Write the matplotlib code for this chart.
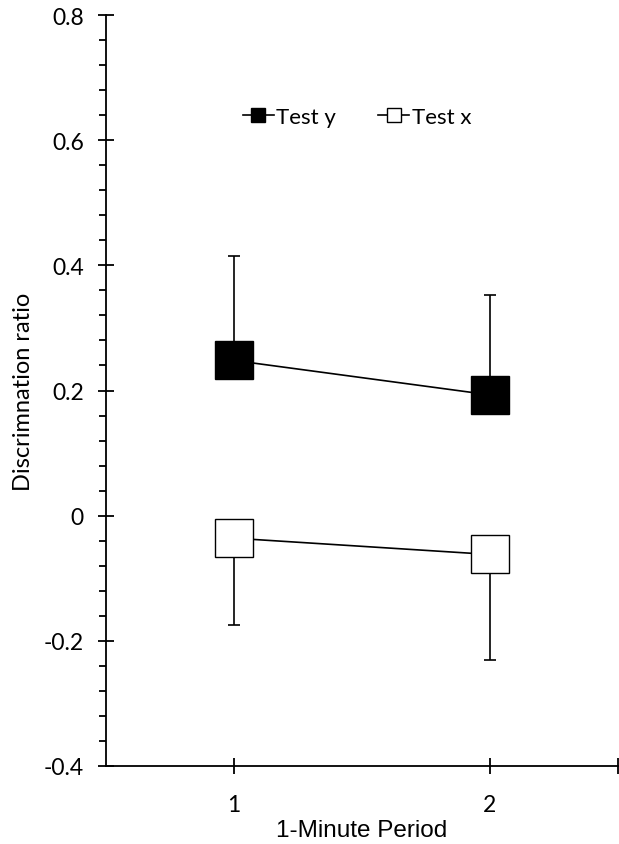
import matplotlib
matplotlib.use("Agg")
import matplotlib.pyplot as plt
from matplotlib.lines import Line2D
from matplotlib.ticker import MultipleLocator, FixedLocator

periods = [1, 2]
test_y = [0.248, 0.193]
test_y_err = [0.167, 0.159]
test_x = [-0.036, -0.062]
test_x_err = [0.138, 0.168]
xtick_labels = ["1", "2"]
ytick_values = [-0.4, -0.2, 0.0, 0.2, 0.4, 0.6, 0.8]
ytick_labels = ["-0.4", "-0.2", "0", "0.2", "0.4", "0.6", "0.8"]

W, H = 619, 845
fig = plt.figure(figsize=(W / 100, H / 100), dpi=100)
ax = fig.add_axes([106 / W, (H - 767) / H, (618 - 106) / W, (767 - 16) / H])

# error bars (one-sided)
ax.errorbar(periods, test_y, yerr=[[0, 0], test_y_err], fmt="none", ecolor="black",
            elinewidth=1.2, capsize=4, capthick=1.2, zorder=1)
ax.errorbar(periods, test_x, yerr=[test_x_err, [0, 0]], fmt="none", ecolor="black",
            elinewidth=1.2, capsize=4, capthick=1.2, zorder=1)

ax.plot(periods, test_y, color="black", lw=1.2, marker="s", markersize=28,
        markerfacecolor="black", markeredgecolor="black", markeredgewidth=1, zorder=3)
ax.plot(periods, test_x, color="black", lw=1.2, marker="s", markersize=28,
        markerfacecolor="white", markeredgecolor="black", markeredgewidth=1, zorder=3)

ax.set_xlim(0.5, 2.5)
ax.set_ylim(-0.4, 0.8)
ax.xaxis.set_major_locator(FixedLocator([1, 2, 2.5]))
ax.set_xticklabels(xtick_labels + [""])
ax.yaxis.set_major_locator(FixedLocator(ytick_values))
ax.set_yticklabels(ytick_labels)
ax.yaxis.set_minor_locator(MultipleLocator(0.04))

for s in ["top", "right"]:
    ax.spines[s].set_visible(False)
for s in ["left", "bottom"]:
    ax.spines[s].set_linewidth(1.3)

ax.tick_params(axis="both", which="major", direction="inout", length=12, width=1.3, pad=10)
ax.tick_params(axis="y", which="minor", direction="out", length=5, width=1.3)
ax.tick_params(axis="x", which="major", pad=14)
for lab in ax.get_yticklabels() + ax.get_xticklabels():
    lab.set_fontfamily(["Lato", "DejaVu Sans"])
    lab.set_fontsize(16.5)

ax.set_ylabel("Discrimnation ratio", fontsize=17, family=["Lato", "DejaVu Sans"], labelpad=7)
ax.set_xlabel("1-Minute Period", fontsize=17.5, family=["Liberation Sans", "DejaVu Sans"], labelpad=3)

handles = [
    Line2D([], [], color="black", lw=1.2, marker="s", markersize=10,
           markerfacecolor="black", markeredgecolor="black"),
    Line2D([], [], color="black", lw=1.2, marker="s", markersize=10,
           markerfacecolor="white", markeredgecolor="black"),
]
ax.legend(handles, ["Test y", "Test x"], loc="center", bbox_to_anchor=(357 / W, 1 - 118 / H),
          bbox_transform=fig.transFigure, ncol=2, frameon=False, handlelength=1.4,
          handletextpad=0.1, columnspacing=1.9, prop=dict(family=["Lato", "DejaVu Sans"], size=16))

fig.savefig("out.png", dpi=100)
